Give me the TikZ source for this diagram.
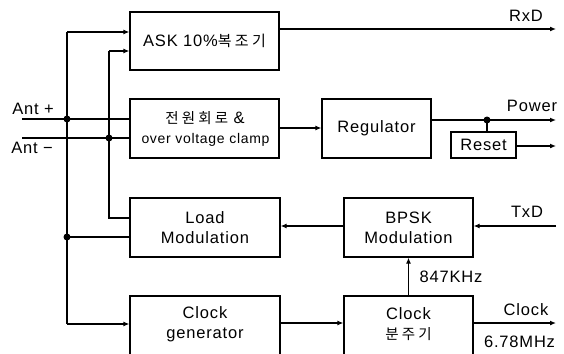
\documentclass[tikz,border=0pt]{standalone}
\usepackage{fontspec}
\setmainfont{Liberation Sans}[LetterSpace=5]
\newfontfamily\kr{Noto Sans CJK KR}[LetterSpace=22]
\usetikzlibrary{arrows.meta,calc}
\begin{document}
\begin{tikzpicture}[x=1pt,y=-1pt,
  blk/.style={draw,line width=1.2pt,inner sep=0pt,align=center,font=\fontsize{16.5}{20}\selectfont},
  lbl/.style={inner sep=0pt,font=\fontsize{16.5}{20}\selectfont},
  wire/.style={line width=1.3pt},
  arr/.style={line width=1.3pt,-{Latex[length=6pt,width=5pt]}},
  dot/.style={circle,fill,inner sep=0pt,minimum size=7pt}]
\useasboundingbox (0,0) rectangle (564,353);
\clip (0,0) rectangle (564,353);
% blocks
\node[blk,minimum width=149pt,minimum height=58pt] (ask) at (204.5,41) {ASK 10\%{\kr\fontsize{15}{18}\selectfont 복조기}};
\node[blk,minimum width=149pt,minimum height=59pt] (pwr) at (204.5,128.5) {};
\node[lbl] (pwrt1) at (205,118) {{\kr\fontsize{14.5}{18}\selectfont 전원회로} \&};
\node[lbl,font=\fontsize{14}{16}\selectfont] (pwrt2) at (205.5,140) {over voltage clamp};
\node[blk,minimum width=109pt,minimum height=59pt] (reg) at (376.5,128.5) {Regulator};
\node[blk,minimum width=65pt,minimum height=26pt] (rst) at (483.5,145) {Reset};
\node[blk,minimum width=150pt,minimum height=59pt] (load) at (205,227.5) {Load\\Modulation};
\node[blk,minimum width=129pt,minimum height=59pt] (bpsk) at (408.5,227.5) {BPSK\\Modulation};
\node[blk,minimum width=150pt,minimum height=70pt] (clkg) at (205,331) {};
\node[lbl,align=center] (clkgt) at (205,324.5) {Clock\\generator};
\node[blk,minimum width=129pt,minimum height=70pt] (clkd) at (408.5,331) {};
\node[lbl,align=center] (clkdt) at (408.5,324.5) {Clock\\{\kr\fontsize{14.5}{18}\selectfont 분주기}};
% coordinates
\coordinate (antp) at (22,119);
\coordinate (antm) at (22,138);
\coordinate (j1) at (67,119);
\coordinate (j2) at (109,138);
\coordinate (j3) at (67,237);
\coordinate (a1) at (67,32);
\coordinate (a2) at (109,51);
\coordinate (a3) at (67,324);
\coordinate (a4) at (109,218);
\coordinate (rxd) at (556,29);
\coordinate (pout) at (556,120);
\coordinate (rout) at (556,146);
\coordinate (txd) at (556,226);
\coordinate (cout) at (556,323);
\coordinate (j4) at (487,120);
% antenna lines
\draw[wire] (antp) -- (antp -| pwr.west);
\draw[wire] (antm) -- (antm -| pwr.west);
\draw[wire] (a3) -- (a1);
\draw[arr] (a1) -- (a1 -| ask.west);
\draw[arr] (a3) -- (a3 -| clkg.west);
\draw[wire] (a2) -- (a4) -- (a4 -| load.west);
\draw[arr] (a2) -- (a2 -| ask.west);
\draw[wire] (j3) -- (j3 -| load.west);
\node[dot] (d1) at (j1) {};
\node[dot] (d2) at (j2) {};
\node[dot] (d3) at (j3) {};
% right side
\draw[arr] (rxd -| ask.east) -- (rxd);
\draw[arr] (pwr.east |- 0,128) -- (reg.west |- 0,128);
\draw[arr] (reg.east |- pout) -- (pout);
\draw[wire] (j4) -- (j4 |- rst.north);
\node[dot] (d4) at (j4) {};
\draw[arr] (rst.east |- rout) -- (rout);
\draw[arr] (txd) -- (txd -| bpsk.east);
\draw[arr] (bpsk.west |- txd) -- (load.east |- txd);
\draw[arr] (clkd.north |- 0,296) -- (bpsk.south);
\draw[arr] (clkg.east |- cout) -- (clkd.west |- cout);
\draw[arr] (clkd.east |- cout) -- (cout);
% labels
\node[lbl] (lrxd) at (526,16) {RxD};
\node[lbl] (lpow) at (532,106) {Power};
\node[lbl] (ltxd) at (527,212) {TxD};
\node[lbl] (l847) at (451,277) {847KHz};
\node[lbl] (lclk) at (526,310) {Clock};
\node[lbl] (lmhz) at (519.5,342) {6.78MHz};
\node[lbl] (lap) at (33,109) {Ant +};
\node[lbl] (lam) at (32,148) {Ant −};
\end{tikzpicture}
\end{document}
